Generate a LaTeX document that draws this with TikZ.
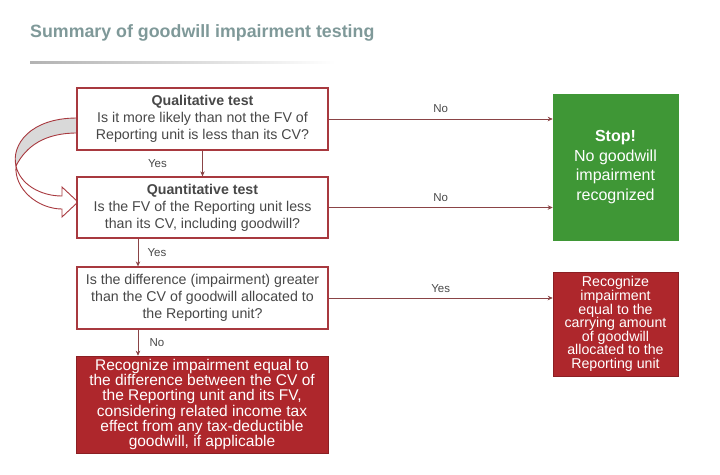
\documentclass[tikz,border=0pt]{standalone}
\usepackage{fontspec}
\setmainfont{Liberation Sans}
\usetikzlibrary{arrows.meta,calc}

\definecolor{boxred}{HTML}{A8393F}
\definecolor{fillred}{HTML}{AE272C}
\definecolor{stopgreen}{HTML}{3F9736}
\definecolor{titlegray}{HTML}{7F9999}
\definecolor{linered}{HTML}{8A4446}
\definecolor{textgray}{HTML}{484848}

\begin{document}
\begin{tikzpicture}[x=1pt,y=-1pt,
    testbox/.style={draw=boxred,line width=1.3pt,fill=white,text=textgray,align=center,inner sep=0pt,minimum width=251pt,font=\fontsize{14.2}{17}\selectfont},
    redbox/.style={fill=fillred,draw=fillred!80!black,line width=0.6pt,text=white,align=center,inner sep=0pt},
    conn/.style={draw=linered,line width=0.7pt,-{Stealth[length=5pt,width=4.5pt]}},
    lbl/.style={text=textgray,font=\fontsize{11.5}{12}\selectfont}]
    \useasboundingbox (0,0) rectangle (720,474);

    % title and rule
    \node[anchor=base west,inner sep=0pt,text=titlegray,font=\bfseries\fontsize{17.8}{22}\selectfont] (title) at (30,37) {Summary of goodwill impairment testing};
    \shade[left color=gray!60,middle color=gray!50,right color=white] (30,61) rectangle (335,63.5);

    % curved arrow back to the quantitative test
    \draw[boxred,line width=0.9pt,fill=gray!30] (77,118) .. controls (30,118) and (11,145) .. (16,166)
        .. controls (26,146) and (45,133) .. (77,133) -- cycle;
    \draw[boxred,line width=0.9pt,fill=white] (16,166) .. controls (14,189) and (38,209) .. (62,209)
        -- (62,217) -- (78,202) -- (62,187) -- (62,196)
        .. controls (40,196) and (20,184) .. (16,166) -- cycle;

    % boxes
    \node[testbox,minimum height=62pt] (qual) at (202.5,119) {\textbf{Qualitative test}\\Is it more likely than not the FV of\\Reporting unit is less than its CV?};
    \node[testbox,minimum height=61pt] (quant) at (202.5,207.5) {\textbf{Quantitative test}\\Is the FV of the Reporting unit less\\than its CV, including goodwill?};
    \node[testbox,minimum height=62pt] (diff) at (202.5,298) {Is the difference (impairment) greater\\than the CV of goodwill allocated to\\the Reporting unit?};
    \node[redbox,minimum width=252pt,minimum height=97pt,font=\fontsize{15.5}{15.3}\selectfont] (recog) at (202,404.5) {Recognize impairment equal to\\the difference between the CV of\\the Reporting unit and its FV,\\considering related income tax\\effect from any tax-deductible\\goodwill, if applicable};
    \node[redbox,fill=stopgreen,draw=stopgreen,minimum width=125pt,minimum height=146pt,font=\fontsize{16}{19.5}\selectfont] (stop) at (615.5,167) {\textbf{Stop!}\\No goodwill\\impairment\\recognized};
    \node[redbox,minimum width=125pt,minimum height=104pt,font=\fontsize{14.2}{13.6}\selectfont] (recgw) at (615.5,324) {Recognize\\impairment\\equal to the\\carrying amount\\of goodwill\\allocated to the\\Reporting unit};

    % connectors
    \coordinate (lx) at (138,0);
    \draw[conn] (qual.east) -- (stop.west |- qual.east) node[lbl,midway,above=3pt] {No};
    \draw[conn] (quant.east) -- (stop.west |- quant.east) node[lbl,midway,above=2pt] {No};
    \draw[conn] (diff.east) -- (recgw.west |- diff.east) node[lbl,midway,above=2pt] {Yes};
    \draw[conn] (qual) -- (quant) node[lbl,midway,xshift=-45pt] {Yes};
    \draw[conn] (quant.south -| lx) -- (diff.north -| lx) node[lbl,midway,xshift=19pt] {Yes};
    \draw[conn] (diff.south -| lx) -- (recog.north -| lx) node[lbl,midway,xshift=19pt] {No};
\end{tikzpicture}
\end{document}
